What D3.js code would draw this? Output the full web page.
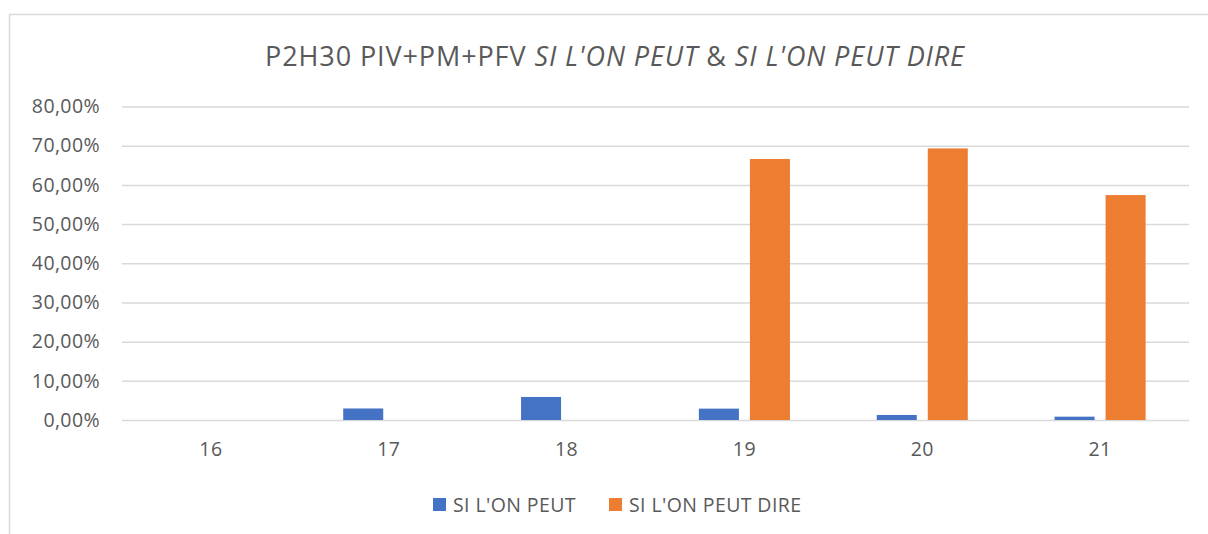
<!DOCTYPE html>
<html>
<head>
<meta charset="utf-8">
<script src="https://cdn.jsdelivr.net/npm/d3@7"></script>
<style>
  body { margin: 0; background: #fff; }
  svg { display: block; font-family: "Open Sans", Lato, sans-serif; }
</style>
</head>
<body>
<svg id="chart" width="1208" height="534"></svg>
<script>
// values
const categories = ["16", "17", "18", "19", "20", "21"]
const series = ["SI L'ON PEUT", "SI L'ON PEUT DIRE"]
const peut = [0, 0.0294, 0.0588, 0.029, 0.0128, 0.0085]
const peutDire = [0, 0, 0, 0.666, 0.693, 0.574]
const yTicks = [0, 0.1, 0.2, 0.3, 0.4, 0.5, 0.6, 0.7, 0.8]
const colors = ["#4472C4", "#ED7D31"]

const fr = d3.formatLocale({ decimal: ",", thousands: " ", grouping: [3], currency: ["", " €"] })
const pct = fr.format(".2%")

const svg = d3.select("#chart")
const textColor = "#595959"
const gridColor = "#d9d9d9"
const labelSize = 19.5

// chart frame (right and bottom run off the picture)
svg.append("rect")
  .attr("x", 9.5)
  .attr("y", 14.5)
  .attr("width", 1220)
  .attr("height", 540)
  .attr("fill", "none")
  .attr("stroke", gridColor)
  .attr("stroke-width", 1.5)

// title, part upright part italic
const title = svg.append("text")
  .attr("x", 615)
  .attr("y", 66)
  .attr("text-anchor", "middle")
  .attr("font-size", 27)
  .attr("letter-spacing", 0.9)
  .attr("fill", textColor)
title.append("tspan").text("P2H30 PIV+PM+PFV ")
title.append("tspan").attr("font-style", "italic").text("SI L'ON PEUT")
title.append("tspan").text(" & ")
title.append("tspan").attr("font-style", "italic").text("SI L'ON PEUT DIRE")

const x = d3.scaleBand()
  .domain(categories)
  .range([122, 1189])
  .padding(0)

const xs = d3.scaleBand()
  .domain(series)
  .range([0, x.bandwidth()])
  .paddingInner(0.216)
  .paddingOuter(0.85)

const y = d3.scaleLinear()
  .domain([0, 0.8])
  .range([420, 106.5])

// gridlines + y labels
const yAxis = svg.append("g")
  .attr("transform", "translate(122,0)")
  .call(d3.axisLeft(y).tickValues(yTicks).tickFormat(pct).tickSize(-(1189 - 122)).tickPadding(22))
yAxis.select(".domain").remove()
yAxis.selectAll(".tick line")
  .attr("stroke", gridColor)
  .attr("stroke-width", 1.5)
yAxis.selectAll(".tick text")
  .attr("fill", textColor)
  .attr("font-size", labelSize)
  .attr("letter-spacing", 0.4)
  .attr("font-family", "'Open Sans', sans-serif")

// bars
const rows = categories.map((c, i) => ({ cat: c, values: [peut[i], peutDire[i]] }))
const groups = svg.append("g").selectAll("g.cat")
  .data(rows)
  .enter()
  .append("g")
  .attr("class", "cat")
  .attr("transform", d => `translate(${x(d.cat)},0)`)

groups.selectAll("rect")
  .data(d => d.values.map((v, j) => ({ key: series[j], v, j })))
  .enter()
  .append("rect")
  .attr("x", d => xs(d.key))
  .attr("width", xs.bandwidth())
  .attr("y", d => y(d.v))
  .attr("height", d => y(0) - y(d.v))
  .attr("fill", d => colors[d.j])

// x labels
const xAxis = svg.append("g")
  .attr("transform", "translate(0,420)")
  .call(d3.axisBottom(x).tickSize(0).tickPadding(22))
xAxis.select(".domain").remove()
xAxis.selectAll(".tick text")
  .attr("fill", textColor)
  .attr("font-size", labelSize)
  .attr("letter-spacing", 0.4)
  .attr("font-family", "'Open Sans', sans-serif")

// legend
const legendX = [433, 609]
const legend = svg.append("g").selectAll("g.leg")
  .data(series)
  .enter()
  .append("g")
  .attr("transform", (d, i) => `translate(${legendX[i]},498)`)
legend.append("rect")
  .attr("width", 13)
  .attr("height", 13)
  .attr("fill", (d, i) => colors[i])
legend.append("text")
  .attr("x", 20)
  .attr("y", 13.5)
  .attr("font-size", labelSize)
  .attr("letter-spacing", 0.4)
  .attr("fill", textColor)
  .text(d => d)
</script>
</body>
</html>
